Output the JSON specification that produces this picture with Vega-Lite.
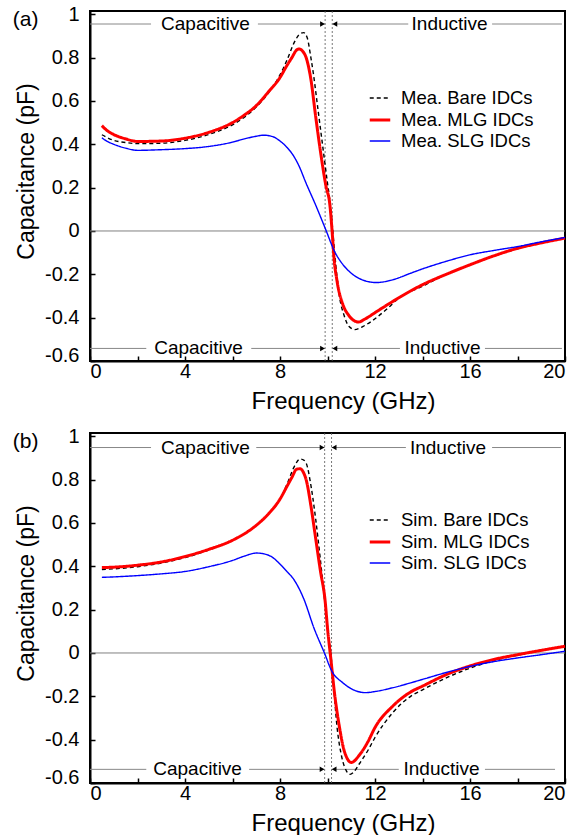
{
  "$schema": "https://vega.github.io/schema/vega-lite/v6.json",
  "background": "white",
  "padding": {"left": 11, "top": 3, "right": 0, "bottom": 0},
  "spacing": 11,
  "config": {
    "font": "Liberation Sans",
    "view": {"stroke": "black", "strokeWidth": 2},
    "axis": {
      "domainColor": "black", "domainWidth": 2, "tickColor": "black", "tickWidth": 1.5, "tickSize": -5,
      "labelFontSize": 20, "labelColor": "black", "labelFont": "Liberation Sans",
      "titleFontSize": 23, "titleFontWeight": "normal", "titleColor": "black", "titleFont": "Liberation Sans",
      "grid": false
    },
    "legend": {
      "orient": "none", "legendX": 278, "legendY": 76, "labelFontSize": 18.5, "labelColor": "black",
      "labelFont": "Liberation Sans", "symbolType": "stroke", "symbolSize": 420, "labelOffset": 9,
      "rowPadding": 0, "padding": 0, "title": null
    }
  },
  "datasets": {
    "curves": [
      {"p":"a","s":"Mea. Bare IDCs","f":0.5,"c":0.444},{"p":"a","s":"Mea. Bare IDCs","f":1.0,"c":0.418},{"p":"a","s":"Mea. Bare IDCs","f":1.5,"c":0.408},{"p":"a","s":"Mea. Bare IDCs","f":2.0,"c":0.403},{"p":"a","s":"Mea. Bare IDCs","f":3.0,"c":0.405},{"p":"a","s":"Mea. Bare IDCs","f":4.0,"c":0.418},{"p":"a","s":"Mea. Bare IDCs","f":5.0,"c":0.445},{"p":"a","s":"Mea. Bare IDCs","f":6.0,"c":0.49},{"p":"a","s":"Mea. Bare IDCs","f":6.5,"c":0.525},{"p":"a","s":"Mea. Bare IDCs","f":7.0,"c":0.572},{"p":"a","s":"Mea. Bare IDCs","f":7.5,"c":0.635},{"p":"a","s":"Mea. Bare IDCs","f":8.0,"c":0.72},{"p":"a","s":"Mea. Bare IDCs","f":8.3,"c":0.79},{"p":"a","s":"Mea. Bare IDCs","f":8.6,"c":0.87},{"p":"a","s":"Mea. Bare IDCs","f":8.85,"c":0.91},{"p":"a","s":"Mea. Bare IDCs","f":9.0,"c":0.915},{"p":"a","s":"Mea. Bare IDCs","f":9.15,"c":0.89},{"p":"a","s":"Mea. Bare IDCs","f":9.3,"c":0.8},{"p":"a","s":"Mea. Bare IDCs","f":9.4,"c":0.73},{"p":"a","s":"Mea. Bare IDCs","f":9.6,"c":0.56},{"p":"a","s":"Mea. Bare IDCs","f":9.8,"c":0.39},{"p":"a","s":"Mea. Bare IDCs","f":10.0,"c":0.22},{"p":"a","s":"Mea. Bare IDCs","f":10.1,"c":0.14},{"p":"a","s":"Mea. Bare IDCs","f":10.2,"c":0.03},{"p":"a","s":"Mea. Bare IDCs","f":10.3,"c":-0.1},{"p":"a","s":"Mea. Bare IDCs","f":10.5,"c":-0.3},{"p":"a","s":"Mea. Bare IDCs","f":10.7,"c":-0.39},{"p":"a","s":"Mea. Bare IDCs","f":10.9,"c":-0.44},{"p":"a","s":"Mea. Bare IDCs","f":11.15,"c":-0.455},{"p":"a","s":"Mea. Bare IDCs","f":11.5,"c":-0.44},{"p":"a","s":"Mea. Bare IDCs","f":12.0,"c":-0.405},{"p":"a","s":"Mea. Bare IDCs","f":12.5,"c":-0.36},{"p":"a","s":"Mea. Bare IDCs","f":13.0,"c":-0.31},{"p":"a","s":"Mea. Bare IDCs","f":14.0,"c":-0.255},{"p":"a","s":"Mea. Bare IDCs","f":15.0,"c":-0.2},{"p":"a","s":"Mea. Bare IDCs","f":16.0,"c":-0.155},{"p":"a","s":"Mea. Bare IDCs","f":17.0,"c":-0.115},{"p":"a","s":"Mea. Bare IDCs","f":18.0,"c":-0.082},{"p":"a","s":"Mea. Bare IDCs","f":19.0,"c":-0.055},{"p":"a","s":"Mea. Bare IDCs","f":20.0,"c":-0.033},

      {"p":"a","s":"Mea. MLG IDCs","f":0.5,"c":0.486},{"p":"a","s":"Mea. MLG IDCs","f":0.7,"c":0.465},{"p":"a","s":"Mea. MLG IDCs","f":1.0,"c":0.445},{"p":"a","s":"Mea. MLG IDCs","f":1.5,"c":0.425},{"p":"a","s":"Mea. MLG IDCs","f":2.0,"c":0.413},{"p":"a","s":"Mea. MLG IDCs","f":3.0,"c":0.415},{"p":"a","s":"Mea. MLG IDCs","f":4.0,"c":0.428},{"p":"a","s":"Mea. MLG IDCs","f":5.0,"c":0.455},{"p":"a","s":"Mea. MLG IDCs","f":6.0,"c":0.5},{"p":"a","s":"Mea. MLG IDCs","f":6.5,"c":0.535},{"p":"a","s":"Mea. MLG IDCs","f":7.0,"c":0.578},{"p":"a","s":"Mea. MLG IDCs","f":7.5,"c":0.64},{"p":"a","s":"Mea. MLG IDCs","f":8.0,"c":0.708},{"p":"a","s":"Mea. MLG IDCs","f":8.3,"c":0.765},{"p":"a","s":"Mea. MLG IDCs","f":8.5,"c":0.8},{"p":"a","s":"Mea. MLG IDCs","f":8.7,"c":0.835},{"p":"a","s":"Mea. MLG IDCs","f":8.8,"c":0.84},{"p":"a","s":"Mea. MLG IDCs","f":8.95,"c":0.83},{"p":"a","s":"Mea. MLG IDCs","f":9.1,"c":0.8},{"p":"a","s":"Mea. MLG IDCs","f":9.3,"c":0.7},{"p":"a","s":"Mea. MLG IDCs","f":9.5,"c":0.53},{"p":"a","s":"Mea. MLG IDCs","f":9.7,"c":0.37},{"p":"a","s":"Mea. MLG IDCs","f":9.93,"c":0.21},{"p":"a","s":"Mea. MLG IDCs","f":10.1,"c":0.12},{"p":"a","s":"Mea. MLG IDCs","f":10.2,"c":-0.01},{"p":"a","s":"Mea. MLG IDCs","f":10.27,"c":-0.12},{"p":"a","s":"Mea. MLG IDCs","f":10.4,"c":-0.23},{"p":"a","s":"Mea. MLG IDCs","f":10.65,"c":-0.34},{"p":"a","s":"Mea. MLG IDCs","f":10.9,"c":-0.39},{"p":"a","s":"Mea. MLG IDCs","f":11.3,"c":-0.42},{"p":"a","s":"Mea. MLG IDCs","f":11.6,"c":-0.405},{"p":"a","s":"Mea. MLG IDCs","f":12.0,"c":-0.377},{"p":"a","s":"Mea. MLG IDCs","f":12.75,"c":-0.325},{"p":"a","s":"Mea. MLG IDCs","f":14.0,"c":-0.248},{"p":"a","s":"Mea. MLG IDCs","f":15.0,"c":-0.2},{"p":"a","s":"Mea. MLG IDCs","f":16.0,"c":-0.156},{"p":"a","s":"Mea. MLG IDCs","f":17.0,"c":-0.115},{"p":"a","s":"Mea. MLG IDCs","f":18.0,"c":-0.08},{"p":"a","s":"Mea. MLG IDCs","f":19.0,"c":-0.055},{"p":"a","s":"Mea. MLG IDCs","f":20.0,"c":-0.033},

      {"p":"a","s":"Mea. SLG IDCs","f":0.5,"c":0.43},{"p":"a","s":"Mea. SLG IDCs","f":0.7,"c":0.415},{"p":"a","s":"Mea. SLG IDCs","f":1.0,"c":0.4},{"p":"a","s":"Mea. SLG IDCs","f":1.5,"c":0.382},{"p":"a","s":"Mea. SLG IDCs","f":2.0,"c":0.372},{"p":"a","s":"Mea. SLG IDCs","f":3.0,"c":0.375},{"p":"a","s":"Mea. SLG IDCs","f":4.0,"c":0.38},{"p":"a","s":"Mea. SLG IDCs","f":5.0,"c":0.39},{"p":"a","s":"Mea. SLG IDCs","f":6.0,"c":0.41},{"p":"a","s":"Mea. SLG IDCs","f":6.5,"c":0.425},{"p":"a","s":"Mea. SLG IDCs","f":7.0,"c":0.437},{"p":"a","s":"Mea. SLG IDCs","f":7.3,"c":0.442},{"p":"a","s":"Mea. SLG IDCs","f":7.7,"c":0.435},{"p":"a","s":"Mea. SLG IDCs","f":8.0,"c":0.415},{"p":"a","s":"Mea. SLG IDCs","f":8.3,"c":0.385},{"p":"a","s":"Mea. SLG IDCs","f":8.55,"c":0.35},{"p":"a","s":"Mea. SLG IDCs","f":8.8,"c":0.3},{"p":"a","s":"Mea. SLG IDCs","f":9.1,"c":0.22},{"p":"a","s":"Mea. SLG IDCs","f":9.5,"c":0.12},{"p":"a","s":"Mea. SLG IDCs","f":9.93,"c":0.005},{"p":"a","s":"Mea. SLG IDCs","f":10.3,"c":-0.095},{"p":"a","s":"Mea. SLG IDCs","f":10.65,"c":-0.155},{"p":"a","s":"Mea. SLG IDCs","f":11.0,"c":-0.195},{"p":"a","s":"Mea. SLG IDCs","f":11.35,"c":-0.22},{"p":"a","s":"Mea. SLG IDCs","f":12.05,"c":-0.238},{"p":"a","s":"Mea. SLG IDCs","f":12.75,"c":-0.225},{"p":"a","s":"Mea. SLG IDCs","f":13.5,"c":-0.195},{"p":"a","s":"Mea. SLG IDCs","f":14.0,"c":-0.175},{"p":"a","s":"Mea. SLG IDCs","f":15.0,"c":-0.14},{"p":"a","s":"Mea. SLG IDCs","f":16.0,"c":-0.11},{"p":"a","s":"Mea. SLG IDCs","f":17.0,"c":-0.09},{"p":"a","s":"Mea. SLG IDCs","f":18.0,"c":-0.072},{"p":"a","s":"Mea. SLG IDCs","f":19.0,"c":-0.05},{"p":"a","s":"Mea. SLG IDCs","f":20.0,"c":-0.03},

      {"p":"b","s":"Sim. Bare IDCs","f":0.5,"c":0.385},{"p":"b","s":"Sim. Bare IDCs","f":2.0,"c":0.398},{"p":"b","s":"Sim. Bare IDCs","f":3.0,"c":0.415},{"p":"b","s":"Sim. Bare IDCs","f":4.0,"c":0.44},{"p":"b","s":"Sim. Bare IDCs","f":5.0,"c":0.475},{"p":"b","s":"Sim. Bare IDCs","f":6.0,"c":0.52},{"p":"b","s":"Sim. Bare IDCs","f":7.0,"c":0.588},{"p":"b","s":"Sim. Bare IDCs","f":7.5,"c":0.64},{"p":"b","s":"Sim. Bare IDCs","f":8.0,"c":0.71},{"p":"b","s":"Sim. Bare IDCs","f":8.3,"c":0.78},{"p":"b","s":"Sim. Bare IDCs","f":8.6,"c":0.86},{"p":"b","s":"Sim. Bare IDCs","f":8.85,"c":0.895},{"p":"b","s":"Sim. Bare IDCs","f":9.0,"c":0.89},{"p":"b","s":"Sim. Bare IDCs","f":9.15,"c":0.86},{"p":"b","s":"Sim. Bare IDCs","f":9.26,"c":0.8},{"p":"b","s":"Sim. Bare IDCs","f":9.5,"c":0.62},{"p":"b","s":"Sim. Bare IDCs","f":9.68,"c":0.45},{"p":"b","s":"Sim. Bare IDCs","f":9.95,"c":0.17},{"p":"b","s":"Sim. Bare IDCs","f":10.2,"c":-0.07},{"p":"b","s":"Sim. Bare IDCs","f":10.4,"c":-0.34},{"p":"b","s":"Sim. Bare IDCs","f":10.6,"c":-0.48},{"p":"b","s":"Sim. Bare IDCs","f":10.8,"c":-0.545},{"p":"b","s":"Sim. Bare IDCs","f":10.95,"c":-0.56},{"p":"b","s":"Sim. Bare IDCs","f":11.1,"c":-0.55},{"p":"b","s":"Sim. Bare IDCs","f":11.35,"c":-0.51},{"p":"b","s":"Sim. Bare IDCs","f":11.7,"c":-0.45},{"p":"b","s":"Sim. Bare IDCs","f":12.0,"c":-0.39},{"p":"b","s":"Sim. Bare IDCs","f":12.75,"c":-0.275},{"p":"b","s":"Sim. Bare IDCs","f":13.5,"c":-0.2},{"p":"b","s":"Sim. Bare IDCs","f":14.0,"c":-0.17},{"p":"b","s":"Sim. Bare IDCs","f":15.0,"c":-0.115},{"p":"b","s":"Sim. Bare IDCs","f":16.0,"c":-0.07},{"p":"b","s":"Sim. Bare IDCs","f":17.0,"c":-0.035},{"p":"b","s":"Sim. Bare IDCs","f":18.0,"c":-0.01},{"p":"b","s":"Sim. Bare IDCs","f":19.0,"c":0.012},{"p":"b","s":"Sim. Bare IDCs","f":20.0,"c":0.03},

      {"p":"b","s":"Sim. MLG IDCs","f":0.5,"c":0.394},{"p":"b","s":"Sim. MLG IDCs","f":1.0,"c":0.396},{"p":"b","s":"Sim. MLG IDCs","f":2.0,"c":0.405},{"p":"b","s":"Sim. MLG IDCs","f":3.0,"c":0.42},{"p":"b","s":"Sim. MLG IDCs","f":4.0,"c":0.445},{"p":"b","s":"Sim. MLG IDCs","f":5.0,"c":0.478},{"p":"b","s":"Sim. MLG IDCs","f":6.0,"c":0.52},{"p":"b","s":"Sim. MLG IDCs","f":7.0,"c":0.589},{"p":"b","s":"Sim. MLG IDCs","f":7.5,"c":0.64},{"p":"b","s":"Sim. MLG IDCs","f":8.0,"c":0.71},{"p":"b","s":"Sim. MLG IDCs","f":8.3,"c":0.77},{"p":"b","s":"Sim. MLG IDCs","f":8.5,"c":0.81},{"p":"b","s":"Sim. MLG IDCs","f":8.7,"c":0.848},{"p":"b","s":"Sim. MLG IDCs","f":8.85,"c":0.85},{"p":"b","s":"Sim. MLG IDCs","f":9.0,"c":0.83},{"p":"b","s":"Sim. MLG IDCs","f":9.1,"c":0.8},{"p":"b","s":"Sim. MLG IDCs","f":9.3,"c":0.68},{"p":"b","s":"Sim. MLG IDCs","f":9.5,"c":0.53},{"p":"b","s":"Sim. MLG IDCs","f":9.7,"c":0.38},{"p":"b","s":"Sim. MLG IDCs","f":9.9,"c":0.24},{"p":"b","s":"Sim. MLG IDCs","f":10.0,"c":0.115},{"p":"b","s":"Sim. MLG IDCs","f":10.15,"c":-0.037},{"p":"b","s":"Sim. MLG IDCs","f":10.3,"c":-0.19},{"p":"b","s":"Sim. MLG IDCs","f":10.5,"c":-0.34},{"p":"b","s":"Sim. MLG IDCs","f":10.7,"c":-0.45},{"p":"b","s":"Sim. MLG IDCs","f":11.0,"c":-0.505},{"p":"b","s":"Sim. MLG IDCs","f":11.35,"c":-0.47},{"p":"b","s":"Sim. MLG IDCs","f":11.7,"c":-0.41},{"p":"b","s":"Sim. MLG IDCs","f":12.0,"c":-0.344},{"p":"b","s":"Sim. MLG IDCs","f":12.75,"c":-0.245},{"p":"b","s":"Sim. MLG IDCs","f":13.5,"c":-0.18},{"p":"b","s":"Sim. MLG IDCs","f":14.0,"c":-0.153},{"p":"b","s":"Sim. MLG IDCs","f":15.0,"c":-0.1},{"p":"b","s":"Sim. MLG IDCs","f":16.0,"c":-0.06},{"p":"b","s":"Sim. MLG IDCs","f":17.0,"c":-0.03},{"p":"b","s":"Sim. MLG IDCs","f":18.0,"c":-0.008},{"p":"b","s":"Sim. MLG IDCs","f":19.0,"c":0.012},{"p":"b","s":"Sim. MLG IDCs","f":20.0,"c":0.031},

      {"p":"b","s":"Sim. SLG IDCs","f":0.5,"c":0.349},{"p":"b","s":"Sim. SLG IDCs","f":1.0,"c":0.351},{"p":"b","s":"Sim. SLG IDCs","f":2.0,"c":0.357},{"p":"b","s":"Sim. SLG IDCs","f":3.0,"c":0.365},{"p":"b","s":"Sim. SLG IDCs","f":4.0,"c":0.376},{"p":"b","s":"Sim. SLG IDCs","f":5.0,"c":0.398},{"p":"b","s":"Sim. SLG IDCs","f":6.0,"c":0.427},{"p":"b","s":"Sim. SLG IDCs","f":6.5,"c":0.447},{"p":"b","s":"Sim. SLG IDCs","f":7.0,"c":0.461},{"p":"b","s":"Sim. SLG IDCs","f":7.3,"c":0.458},{"p":"b","s":"Sim. SLG IDCs","f":7.7,"c":0.44},{"p":"b","s":"Sim. SLG IDCs","f":8.0,"c":0.41},{"p":"b","s":"Sim. SLG IDCs","f":8.3,"c":0.375},{"p":"b","s":"Sim. SLG IDCs","f":8.55,"c":0.344},{"p":"b","s":"Sim. SLG IDCs","f":9.0,"c":0.25},{"p":"b","s":"Sim. SLG IDCs","f":9.43,"c":0.115},{"p":"b","s":"Sim. SLG IDCs","f":9.9,"c":-0.008},{"p":"b","s":"Sim. SLG IDCs","f":10.15,"c":-0.077},{"p":"b","s":"Sim. SLG IDCs","f":10.65,"c":-0.138},{"p":"b","s":"Sim. SLG IDCs","f":11.0,"c":-0.165},{"p":"b","s":"Sim. SLG IDCs","f":11.6,"c":-0.183},{"p":"b","s":"Sim. SLG IDCs","f":12.0,"c":-0.178},{"p":"b","s":"Sim. SLG IDCs","f":12.76,"c":-0.16},{"p":"b","s":"Sim. SLG IDCs","f":13.5,"c":-0.138},{"p":"b","s":"Sim. SLG IDCs","f":14.0,"c":-0.122},{"p":"b","s":"Sim. SLG IDCs","f":15.0,"c":-0.09},{"p":"b","s":"Sim. SLG IDCs","f":16.0,"c":-0.062},{"p":"b","s":"Sim. SLG IDCs","f":17.0,"c":-0.04},{"p":"b","s":"Sim. SLG IDCs","f":18.0,"c":-0.023},{"p":"b","s":"Sim. SLG IDCs","f":19.0,"c":-0.008},{"p":"b","s":"Sim. SLG IDCs","f":20.0,"c":0.008}
    ],
    "ann": [
      {"p":"a","k":"zero","x1":0,"x2":20,"y":0},
      {"p":"a","k":"seg","x1":0,"x2":2.57,"y":0.955},{"p":"a","k":"seg","x1":7.07,"x2":9.9,"y":0.955},{"p":"a","k":"seg","x1":10.2,"x2":13.4,"y":0.955},{"p":"a","k":"seg","x1":16.93,"x2":19.87,"y":0.955},
      {"p":"a","k":"seg","x1":0,"x2":2.37,"y":-0.542},{"p":"a","k":"seg","x1":6.79,"x2":9.9,"y":-0.542},{"p":"a","k":"seg","x1":10.2,"x2":13.05,"y":-0.542},{"p":"a","k":"seg","x1":16.63,"x2":19.87,"y":-0.542},
      {"p":"a","k":"v","x1":9.9},{"p":"a","k":"v","x1":10.2},
      {"p":"a","k":"t","x1":4.86,"y":0.955,"label":"Capacitive"},{"p":"a","k":"t","x1":15.14,"y":0.955,"label":"Inductive"},
      {"p":"a","k":"t","x1":4.57,"y":-0.542,"label":"Capacitive"},{"p":"a","k":"t","x1":14.84,"y":-0.542,"label":"Inductive"},
      {"p":"a","k":"arr","x1":9.79,"y":0.955,"dir":"right"},{"p":"a","k":"arr","x1":10.31,"y":0.955,"dir":"left"},
      {"p":"a","k":"arr","x1":9.79,"y":-0.542,"dir":"right"},{"p":"a","k":"arr","x1":10.31,"y":-0.542,"dir":"left"},
      {"p":"a","k":"lab","x1":-3.25,"y":0.975,"label":"(a)"},

      {"p":"b","k":"zero","x1":0,"x2":20,"y":0},
      {"p":"b","k":"seg","x1":0,"x2":2.57,"y":0.948},{"p":"b","k":"seg","x1":7.0,"x2":9.88,"y":0.948},{"p":"b","k":"seg","x1":10.17,"x2":13.3,"y":0.948},{"p":"b","k":"seg","x1":16.93,"x2":19.83,"y":0.948},
      {"p":"b","k":"seg","x1":0,"x2":2.37,"y":-0.537},{"p":"b","k":"seg","x1":6.7,"x2":9.88,"y":-0.537},{"p":"b","k":"seg","x1":10.17,"x2":13.0,"y":-0.537},{"p":"b","k":"seg","x1":16.63,"x2":19.58,"y":-0.537},
      {"p":"b","k":"v","x1":9.88},{"p":"b","k":"v","x1":10.17},
      {"p":"b","k":"t","x1":4.86,"y":0.948,"label":"Capacitive"},{"p":"b","k":"t","x1":15.07,"y":0.948,"label":"Inductive"},
      {"p":"b","k":"t","x1":4.53,"y":-0.537,"label":"Capacitive"},{"p":"b","k":"t","x1":14.8,"y":-0.537,"label":"Inductive"},
      {"p":"b","k":"arr","x1":9.77,"y":0.948,"dir":"right"},{"p":"b","k":"arr","x1":10.28,"y":0.948,"dir":"left"},
      {"p":"b","k":"arr","x1":9.77,"y":-0.537,"dir":"right"},{"p":"b","k":"arr","x1":10.28,"y":-0.537,"dir":"left"},
      {"p":"b","k":"lab","x1":-3.25,"y":0.975,"label":"(b)"}
    ]
  },
  "vconcat": [
    {
      "width": 475, "height": 350,
      "layer": [
        {"data": {"name": "ann"}, "transform": [{"filter": "datum.p === 'a' && datum.k === 'zero'"}],
         "mark": {"type": "rule", "color": "#808080", "strokeWidth": 1},
         "encoding": {
           "x": {"field": "x1", "type": "quantitative", "scale": {"domain": [0, 20], "nice": false}, "title": "Frequency (GHz)",
                 "axis": {"values": [0,2,4,6,8,10,12,14,16,18,20], "labelExpr": "datum.value % 4 === 0 ? datum.label : ''", "labelPadding": 5, "titleX": 253, "titlePadding": 8, "titleFontSize": 24}},
           "x2": {"field": "x2"},
           "y": {"field": "y", "type": "quantitative", "scale": {"domain": [-0.6, 1.015], "nice": false}, "title": "Capacitance (pF)",
                 "axis": {"values": [-0.6,-0.5,-0.4,-0.3,-0.2,-0.1,0,0.1,0.2,0.3,0.4,0.5,0.6,0.7,0.8,0.9,1.0],
                          "labelExpr": "round(datum.value*10) % 2 === 0 ? (datum.value < 0 ? '-' + format(-datum.value, '~g') : format(datum.value, '~g')) : ''",
                          "labelPadding": 16, "titlePadding": 6, "titleY": 160, "labelFlush": true, "labelFlushOffset": 4}}
         }},
        {"data": {"name": "ann"}, "transform": [{"filter": "datum.p === 'a' && datum.k === 'v'"}],
         "mark": {"type": "rule", "color": "#555555", "strokeWidth": 0.8, "strokeDash": [2, 2]},
         "encoding": {"x": {"field": "x1", "type": "quantitative"}}},
        {"data": {"name": "ann"}, "transform": [{"filter": "datum.p === 'a' && datum.k === 'seg'"}],
         "mark": {"type": "rule", "color": "#888888", "strokeWidth": 1},
         "encoding": {"x": {"field": "x1", "type": "quantitative"}, "x2": {"field": "x2"}, "y": {"field": "y", "type": "quantitative"}}},
        {"data": {"name": "ann"}, "transform": [{"filter": "datum.p === 'a' && datum.k === 't'"}],
         "mark": {"type": "text", "fontSize": 19, "color": "black", "baseline": "middle", "align": "center"},
         "encoding": {"x": {"field": "x1", "type": "quantitative"}, "y": {"field": "y", "type": "quantitative"}, "text": {"field": "label"}}},
        {"data": {"name": "ann"}, "transform": [{"filter": "datum.p === 'a' && datum.k === 'arr'"}],
         "mark": {"type": "point", "filled": true, "color": "black", "size": 30, "opacity": 1},
         "encoding": {"x": {"field": "x1", "type": "quantitative"}, "y": {"field": "y", "type": "quantitative"},
                      "shape": {"field": "dir", "type": "nominal", "scale": {"domain": ["right", "left"], "range": ["triangle-right", "triangle-left"]}, "legend": null}}},
        {"data": {"name": "curves"}, "transform": [{"filter": "datum.p === 'a'"}],
         "mark": {"type": "line", "interpolate": "monotone"},
         "encoding": {
           "x": {"field": "f", "type": "quantitative"},
           "y": {"field": "c", "type": "quantitative"},
           "color": {"field": "s", "type": "nominal", "scale": {"domain": ["Mea. Bare IDCs", "Mea. MLG IDCs", "Mea. SLG IDCs"], "range": ["black", "#ff0000", "#0000ff"]}, "legend": {"title": null}},
           "strokeDash": {"field": "s", "type": "nominal", "scale": {"domain": ["Mea. Bare IDCs", "Mea. MLG IDCs", "Mea. SLG IDCs"], "range": [[4, 3], [1, 0], [1, 0]]}, "legend": {"title": null}},
           "strokeWidth": {"field": "s", "type": "nominal", "scale": {"type": "ordinal", "domain": ["Mea. Bare IDCs", "Mea. MLG IDCs", "Mea. SLG IDCs"], "range": [1.4, 3, 1.4]}, "legend": {"title": null}}
         }},
        {"data": {"name": "ann"}, "transform": [{"filter": "datum.p === 'a' && datum.k === 'lab'"}],
         "mark": {"type": "text", "fontSize": 21, "color": "black", "baseline": "middle", "align": "left"},
         "encoding": {"x": {"field": "x1", "type": "quantitative"}, "y": {"field": "y", "type": "quantitative"}, "text": {"field": "label"}}}
      ]
    },
    {
      "width": 475, "height": 350,
      "layer": [
        {"data": {"name": "ann"}, "transform": [{"filter": "datum.p === 'b' && datum.k === 'zero'"}],
         "mark": {"type": "rule", "color": "#808080", "strokeWidth": 1},
         "encoding": {
           "x": {"field": "x1", "type": "quantitative", "scale": {"domain": [0, 20], "nice": false}, "title": "Frequency (GHz)",
                 "axis": {"values": [0,2,4,6,8,10,12,14,16,18,20], "labelExpr": "datum.value % 4 === 0 ? datum.label : ''", "labelPadding": 5, "titleX": 253, "titlePadding": 8, "titleFontSize": 24}},
           "x2": {"field": "x2"},
           "y": {"field": "y", "type": "quantitative", "scale": {"domain": [-0.6, 1.015], "nice": false}, "title": "Capacitance (pF)",
                 "axis": {"values": [-0.6,-0.5,-0.4,-0.3,-0.2,-0.1,0,0.1,0.2,0.3,0.4,0.5,0.6,0.7,0.8,0.9,1.0],
                          "labelExpr": "round(datum.value*10) % 2 === 0 ? (datum.value < 0 ? '-' + format(-datum.value, '~g') : format(datum.value, '~g')) : ''",
                          "labelPadding": 16, "titlePadding": 6, "titleY": 160, "labelFlush": true, "labelFlushOffset": 4}}
         }},
        {"data": {"name": "ann"}, "transform": [{"filter": "datum.p === 'b' && datum.k === 'v'"}],
         "mark": {"type": "rule", "color": "#555555", "strokeWidth": 0.8, "strokeDash": [2, 2]},
         "encoding": {"x": {"field": "x1", "type": "quantitative"}}},
        {"data": {"name": "ann"}, "transform": [{"filter": "datum.p === 'b' && datum.k === 'seg'"}],
         "mark": {"type": "rule", "color": "#888888", "strokeWidth": 1},
         "encoding": {"x": {"field": "x1", "type": "quantitative"}, "x2": {"field": "x2"}, "y": {"field": "y", "type": "quantitative"}}},
        {"data": {"name": "ann"}, "transform": [{"filter": "datum.p === 'b' && datum.k === 't'"}],
         "mark": {"type": "text", "fontSize": 19, "color": "black", "baseline": "middle", "align": "center"},
         "encoding": {"x": {"field": "x1", "type": "quantitative"}, "y": {"field": "y", "type": "quantitative"}, "text": {"field": "label"}}},
        {"data": {"name": "ann"}, "transform": [{"filter": "datum.p === 'b' && datum.k === 'arr'"}],
         "mark": {"type": "point", "filled": true, "color": "black", "size": 30, "opacity": 1},
         "encoding": {"x": {"field": "x1", "type": "quantitative"}, "y": {"field": "y", "type": "quantitative"},
                      "shape": {"field": "dir", "type": "nominal", "scale": {"domain": ["right", "left"], "range": ["triangle-right", "triangle-left"]}, "legend": null}}},
        {"data": {"name": "curves"}, "transform": [{"filter": "datum.p === 'b'"}],
         "mark": {"type": "line", "interpolate": "monotone"},
         "encoding": {
           "x": {"field": "f", "type": "quantitative"},
           "y": {"field": "c", "type": "quantitative"},
           "color": {"field": "s", "type": "nominal", "scale": {"domain": ["Sim. Bare IDCs", "Sim. MLG IDCs", "Sim. SLG IDCs"], "range": ["black", "#ff0000", "#0000ff"]}, "legend": {"title": null}},
           "strokeDash": {"field": "s", "type": "nominal", "scale": {"domain": ["Sim. Bare IDCs", "Sim. MLG IDCs", "Sim. SLG IDCs"], "range": [[4, 3], [1, 0], [1, 0]]}, "legend": {"title": null}},
           "strokeWidth": {"field": "s", "type": "nominal", "scale": {"type": "ordinal", "domain": ["Sim. Bare IDCs", "Sim. MLG IDCs", "Sim. SLG IDCs"], "range": [1.4, 3, 1.4]}, "legend": {"title": null}}
         }},
        {"data": {"name": "ann"}, "transform": [{"filter": "datum.p === 'b' && datum.k === 'lab'"}],
         "mark": {"type": "text", "fontSize": 21, "color": "black", "baseline": "middle", "align": "left"},
         "encoding": {"x": {"field": "x1", "type": "quantitative"}, "y": {"field": "y", "type": "quantitative"}, "text": {"field": "label"}}}
      ]
    }
  ],
  "resolve": {"scale": {"color": "independent", "strokeDash": "independent", "strokeWidth": "independent", "x": "independent", "y": "independent"}}
}
